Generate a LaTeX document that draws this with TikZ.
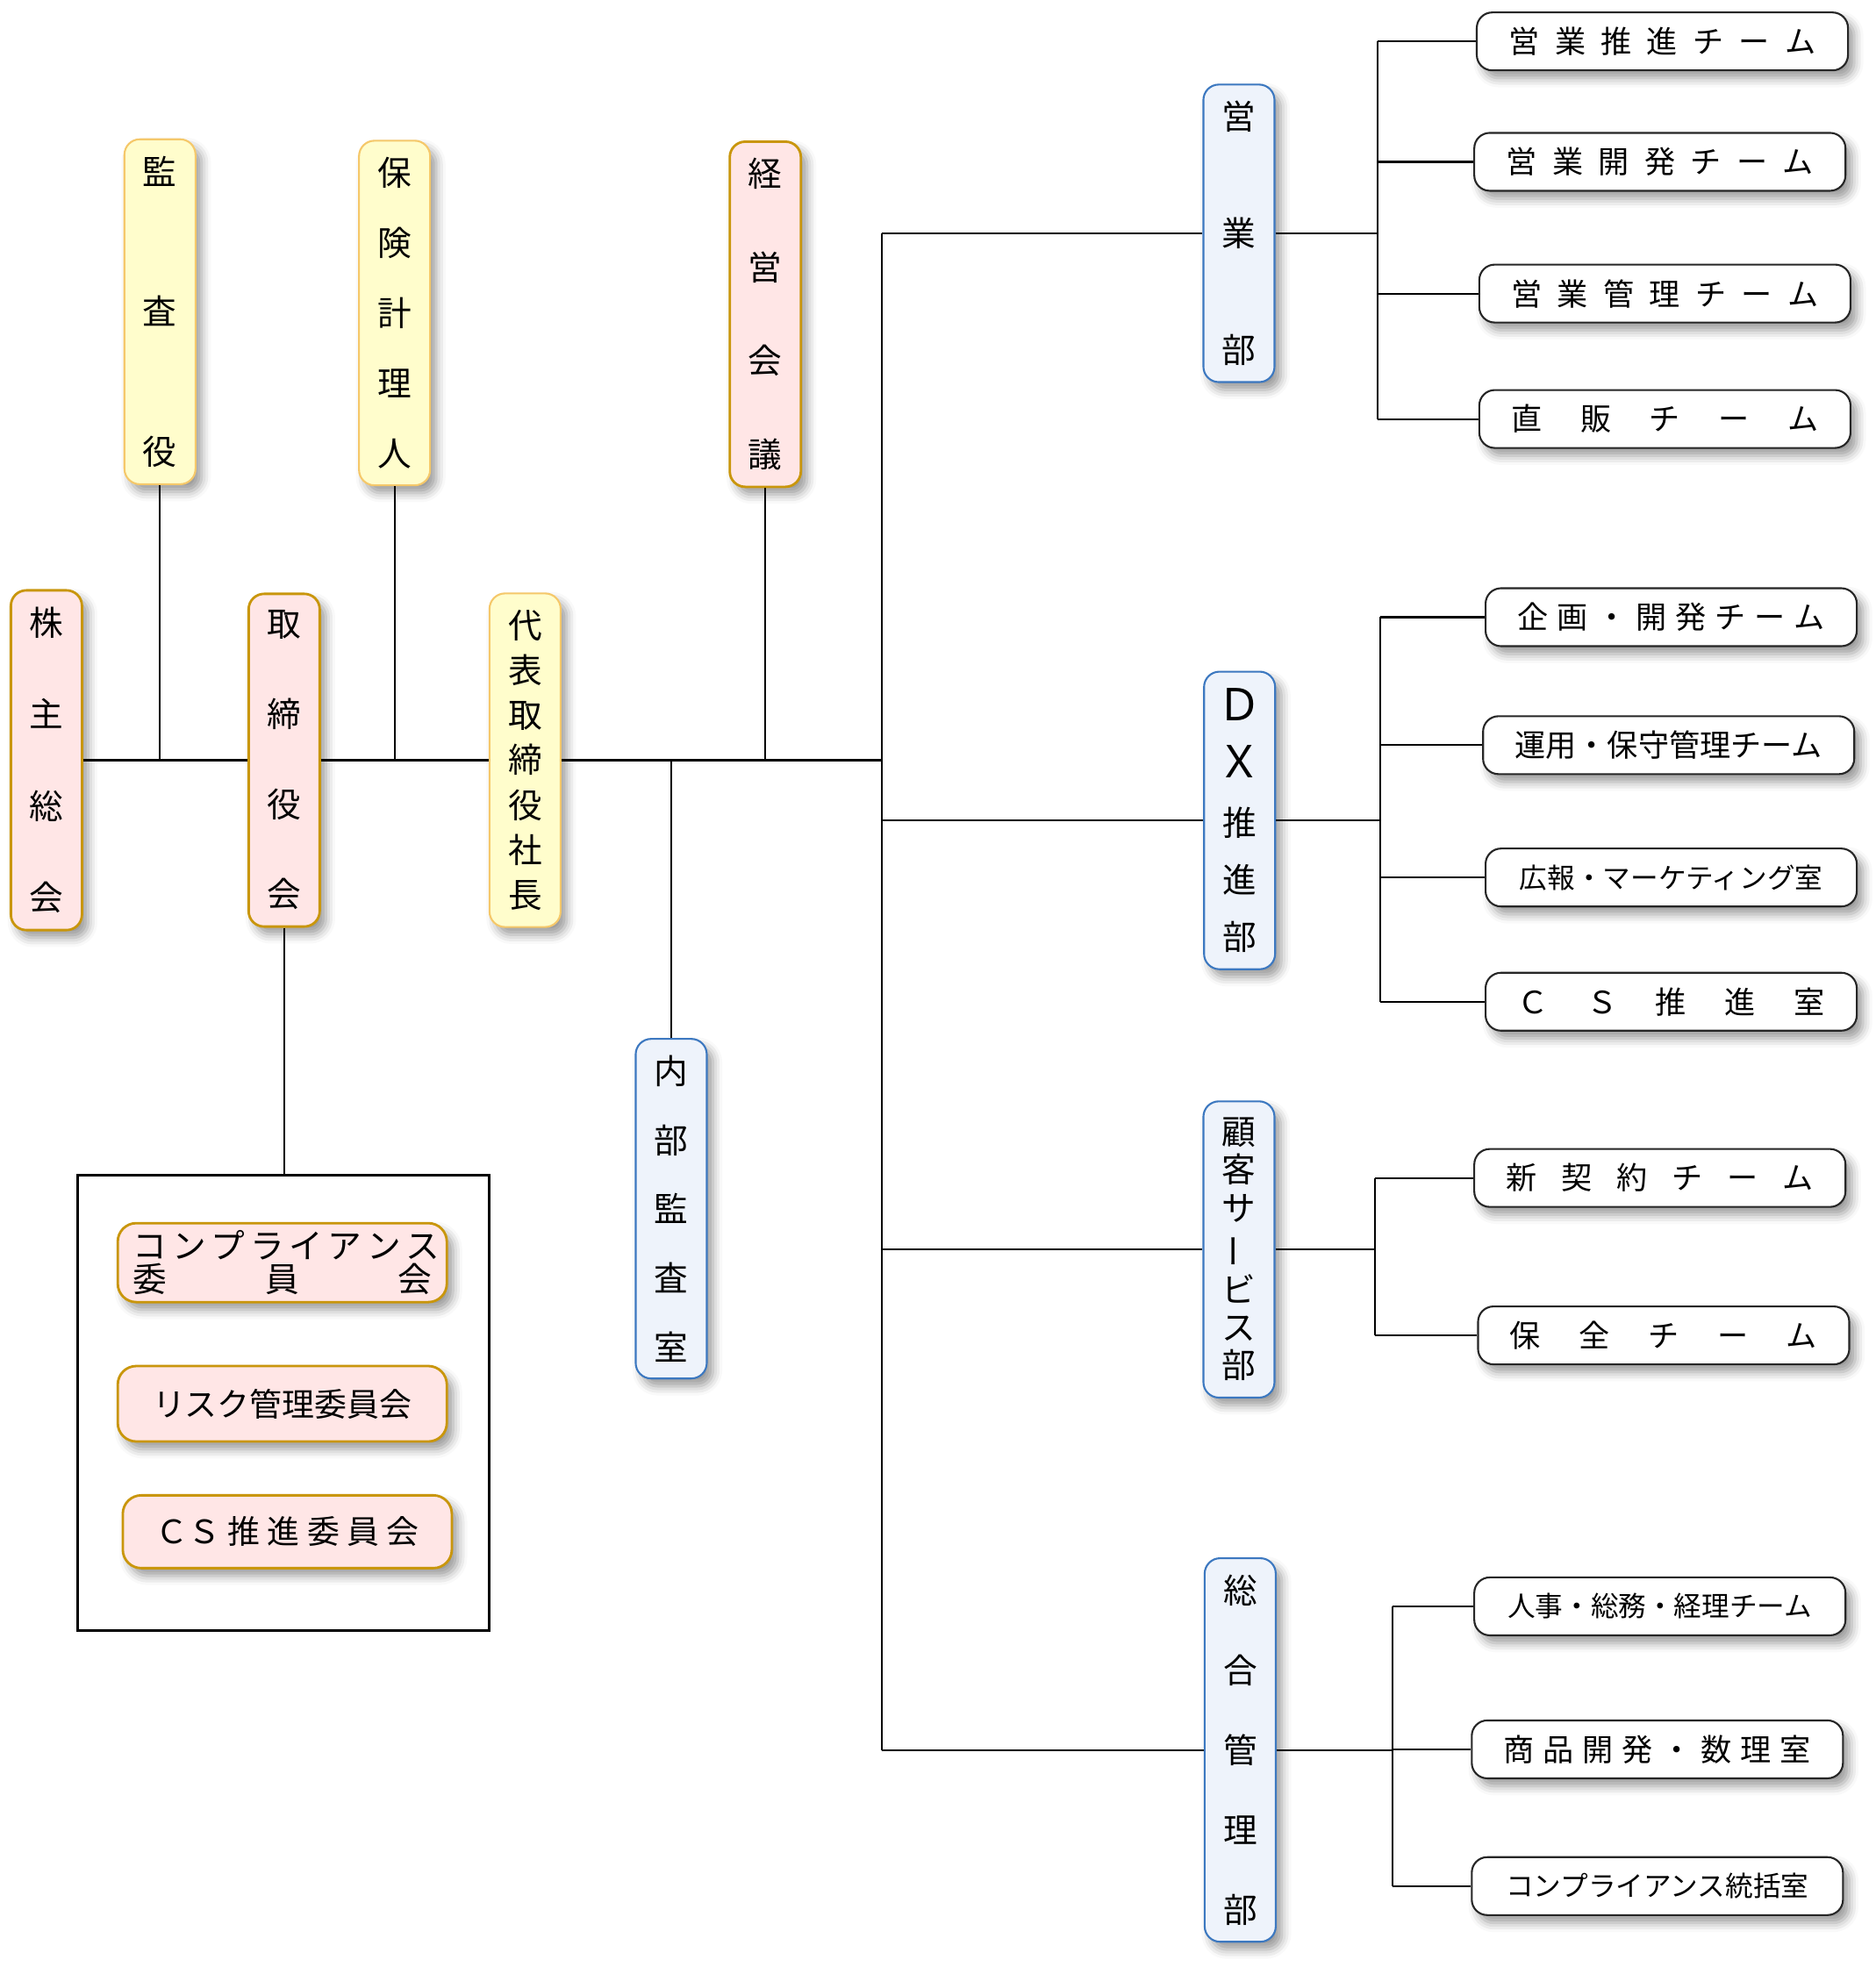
\documentclass[tikz,border=0pt]{standalone}
\usepackage{fontspec}
\setmainfont{Noto Sans CJK JP}
\usepackage{graphicx}
\usepackage{tikz}
\usetikzlibrary{shadows.blur}
\definecolor{pinkfill}{HTML}{FFE6E6}
\definecolor{pinkline}{HTML}{C9960C}
\definecolor{yellowfill}{HTML}{FFFDCC}
\definecolor{yellowline}{HTML}{F5C86A}
\definecolor{bluefill}{HTML}{EEF3FB}
\definecolor{blueline}{HTML}{3C78C0}
\newcommand{\tatetext}[2]{%
  \parbox[c][#1][s]{2em}{\centering
    \foreach \ch [count=\k] in {#2}{\ifnum\k>1 \vfill\fi\ch\par}}}
\tikzset{
  kage/.style={blur shadow={shadow xshift=2pt, shadow yshift=-2.5pt, shadow blur radius=3pt, shadow opacity=40}},
  tatebox/.style={rounded corners=5pt, minimum width=0.81cm, inner xsep=0pt, inner ysep=0.19cm, font=\fontsize{11}{11}\selectfont, kage},
  pinkbox/.style={fill=pinkfill, draw=pinkline, line width=0.8pt},
  yellowbox/.style={fill=yellowfill, draw=yellowline, line width=0.6pt},
  bluebox/.style={fill=bluefill, draw=blueline, line width=0.6pt},
  team/.style={draw=black!85, fill=white, line width=0.6pt, rounded corners=5pt, minimum width=4.23cm, minimum height=0.66cm, inner sep=0pt, font=\fontsize{10}{10}\selectfont, kage},
  iin/.style={pinkbox, rounded corners=6pt, minimum width=3.75cm, inner sep=0pt, font=\fontsize{10.5}{10.5}\selectfont, kage},
  sen/.style={line width=0.6pt}
}

\begin{document}
\begin{tikzpicture}[x=0.014294cm, y=-0.014294cm]
  \useasboundingbox (0,0) rectangle (1495,1568);
  % 左側：会議体と役員
  \node[tatebox, pinkbox] (kabu) at (37,606) {\tatetext{3.46cm}{株,主,総,会}};
  \node[tatebox, yellowbox] (kansa) at (127.5,248.5) {\tatetext{3.52cm}{監,査,役}};
  \node[tatebox, yellowbox] (hoken) at (314.5,249.5) {\tatetext{3.52cm}{保,険,計,理,人}};
  \node[tatebox, pinkbox] (torishimari) at (226.5,606) {\tatetext{3.38cm}{取,締,役,会}};
  \node[tatebox, yellowbox] (shacho) at (418.5,606) {\tatetext{3.39cm}{代,表,取,締,役,社,長}};
  \node[tatebox, pinkbox] (keiei) at (610,250.5) {\tatetext{3.52cm}{経,営,会,議}};
  \node[tatebox, bluebox] (naibu) at (535,963.5) {\tatetext{3.47cm}{内,部,監,査,室}};
  % 委員会の枠
  \node[draw, line width=0.8pt, minimum width=4.69cm, minimum height=5.19cm] (iinkai) at (226,1118.5) {};
  \node[iin, minimum height=0.9cm, font=\fontsize{11}{11}\selectfont, align=center] (c1) at (225,1006.5)
    {\makebox[3.4cm][s]{コ ン プ ラ イ ア ン ス}\\\makebox[3.4cm][s]{委 員 会}};
  \node[iin, minimum height=0.86cm] (c2) at (225,1119) {リスク管理委員会};
  \node[iin, minimum height=0.83cm] (c3) at (229,1221) {\makebox[3.0cm][s]{ＣＳ 推 進 委 員 会}};
  % 部門
  \node[tatebox, bluebox] (eigyo) at (987.5,186) {\tatetext{2.98cm}{営,業,部}};
  \node[tatebox, bluebox] (dx) at (988,654) {\tatetext{2.98cm}{{\scalebox{1.3}{Ｄ}},{\scalebox{1.3}{Ｘ}},推,進,部}};
  \node[tatebox, bluebox] (kokyaku) at (987.5,996) {\tatetext{2.965cm}{顧,客,サ,{\rotatebox[origin=c]{90}{ー}},ビ,ス,部}};
  \node[tatebox, bluebox] (sogo) at (988.5,1395) {\tatetext{3.96cm}{総,合,管,理,部}};
  % チーム・室
  \node[team] (e1) at (1325,33) {\makebox[3.5cm][s]{営 業 推 進 チ ー ム}};
  \node[team] (e2) at (1323,129) {\makebox[3.5cm][s]{営 業 開 発 チ ー ム}};
  \node[team] (e3) at (1327,234) {\makebox[3.5cm][s]{営 業 管 理 チ ー ム}};
  \node[team] (e4) at (1327,334) {\makebox[3.5cm][s]{直 販 チ ー ム}};
  \node[team] (d1) at (1332,492) {\makebox[3.5cm][s]{企 画 ・ 開 発 チ ー ム}};
  \node[team] (d2) at (1330,594) {運用・保守管理チーム};
  \node[team, font=\fontsize{9}{9}\selectfont] (d3) at (1332,699.5) {広報・マーケティング室};
  \node[team] (d4) at (1332,798.5) {\makebox[3.5cm][s]{Ｃ Ｓ 推 進 室}};
  \node[team] (k1) at (1323,939) {\makebox[3.5cm][s]{新 契 約 チ ー ム}};
  \node[team] (k2) at (1326,1064.5) {\makebox[3.5cm][s]{保 全 チ ー ム}};
  \node[team, font=\fontsize{9}{9}\selectfont] (s1) at (1323,1280.5) {人事・総務・経理チーム};
  \node[team] (s2) at (1321,1394.5) {\makebox[3.5cm][s]{商 品 開 発 ・ 数 理 室}};
  \node[team, font=\fontsize{9}{9}\selectfont] (s3) at (1321,1503.5) {コンプライアンス統括室};
  % 本線
  \coordinate (bunki) at (703,606);
  \draw[sen] (kabu.east) -- (torishimari.west);
  \draw[sen] (torishimari.east) -- (shacho.west);
  \draw[sen] (shacho.east) -- (bunki);
  \foreach \n in {kansa,hoken,keiei} \draw[sen] (\n.south) -- (\n.south |- bunki);
  \draw[sen] (naibu.north) -- (naibu.north |- bunki);
  \draw[sen] (torishimari.south) -- (torishimari.south |- iinkai.north);
  % 部門への幹線
  \draw[sen] (bunki |- eigyo.west) -- (bunki |- sogo.west);
  \foreach \n in {eigyo,dx,kokyaku,sogo} \draw[sen] (bunki |- \n.west) -- (\n.west);
  % 部門からチームへ
  \coordinate (eb) at (1098,186);
  \coordinate (db) at (1100,654);
  \coordinate (kb) at (1096,996);
  \coordinate (sb) at (1110,1395);
  \draw[sen] (eigyo.east) -- (eb);
  \draw[sen] (eb |- e1.west) -- (eb |- e4.west);
  \foreach \t in {e1,e2,e3,e4} \draw[sen] (eb |- \t.west) -- (\t.west);
  \draw[sen] (dx.east) -- (db);
  \draw[sen] (db |- d1.west) -- (db |- d4.west);
  \foreach \t in {d1,d2,d3,d4} \draw[sen] (db |- \t.west) -- (\t.west);
  \draw[sen] (kokyaku.east) -- (kb);
  \draw[sen] (kb |- k1.west) -- (kb |- k2.west);
  \foreach \t in {k1,k2} \draw[sen] (kb |- \t.west) -- (\t.west);
  \draw[sen] (sogo.east) -- (sb);
  \draw[sen] (sb |- s1.west) -- (sb |- s3.west);
  \foreach \t in {s1,s2,s3} \draw[sen] (sb |- \t.west) -- (\t.west);
\end{tikzpicture}
\end{document}
